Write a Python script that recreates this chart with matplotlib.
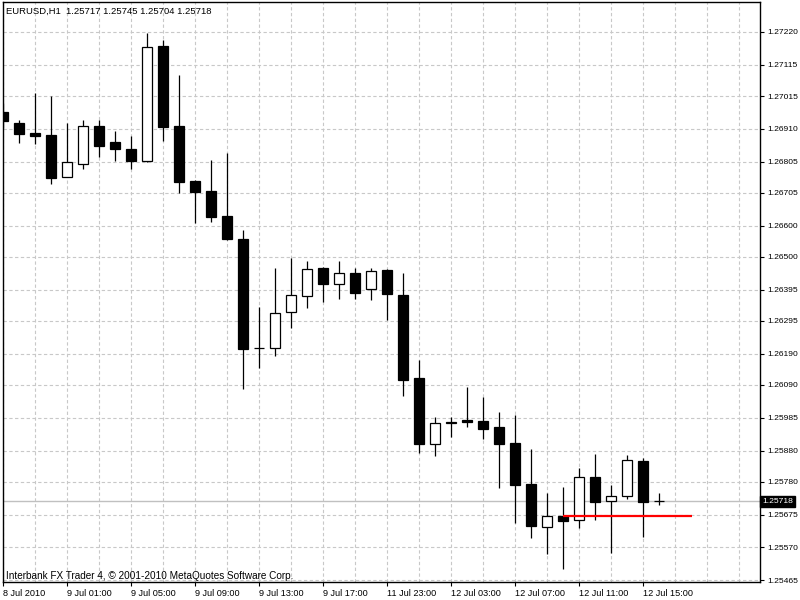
"""EURUSD H1 candlestick chart in the MetaTrader 4 look.
"""

# Global imports
import matplotlib
matplotlib.use("Agg")
import matplotlib.pyplot as plt
from matplotlib.transforms import blended_transform_factory

# Chart data (one candle per hour)
opens = [1.26964, 1.26929, 1.26897, 1.26890, 1.26756, 1.26797, 1.26919, 1.26868,
         1.26845, 1.26807, 1.27175, 1.26919, 1.26743, 1.26711, 1.26631, 1.26557,
         1.26208, 1.26208, 1.26323, 1.26375, 1.26464, 1.26413, 1.26448, 1.26397,
         1.26458, 1.26378, 1.26112, 1.25901, 1.25968, 1.25977, 1.25974, 1.25955,
         1.25904, 1.25772, 1.25635, 1.25670, 1.25657, 1.25795, 1.25718, 1.25734,
         1.25846, 1.25717]
highs = [1.26993, 1.26938, 1.27025, 1.27015, 1.26929, 1.26938, 1.26938, 1.26903,
         1.26887, 1.27217, 1.27194, 1.27082, 1.26746, 1.26810, 1.26832, 1.26586,
         1.26339, 1.26464, 1.26496, 1.26487, 1.26467, 1.26487, 1.26464, 1.26464,
         1.26461, 1.26448, 1.26170, 1.25987, 1.25987, 1.26083, 1.26051, 1.26003,
         1.25993, 1.25885, 1.25744, 1.25763, 1.25824, 1.25869, 1.25769, 1.25865,
         1.25856, 1.25745]
lows = [1.26913, 1.26865, 1.26861, 1.26733, 1.26756, 1.26781, 1.26820, 1.26807,
        1.26781, 1.26804, 1.26871, 1.26704, 1.26608, 1.26612, 1.26554, 1.26077,
        1.26144, 1.26182, 1.26272, 1.26336, 1.26355, 1.26365, 1.26365, 1.26362,
        1.26298, 1.26054, 1.25872, 1.25862, 1.25923, 1.25955, 1.25917, 1.25760,
        1.25648, 1.25599, 1.25548, 1.25500, 1.25632, 1.25657, 1.25551, 1.25724,
        1.25603, 1.25704]
closes = [1.26935, 1.26893, 1.26887, 1.26752, 1.26804, 1.26919, 1.26855, 1.26845,
          1.26807, 1.27172, 1.26916, 1.26740, 1.26708, 1.26628, 1.26557, 1.26205,
          1.26208, 1.26320, 1.26378, 1.26461, 1.26413, 1.26448, 1.26384, 1.26455,
          1.26381, 1.26105, 1.25901, 1.25968, 1.25971, 1.25971, 1.25949, 1.25901,
          1.25769, 1.25638, 1.25670, 1.25654, 1.25795, 1.25715, 1.25734, 1.25849,
          1.25715, 1.25718]

time_labels = ["8 Jul 2010", "9 Jul 01:00", "9 Jul 05:00", "9 Jul 09:00",
               "9 Jul 13:00", "9 Jul 17:00", "11 Jul 23:00", "12 Jul 03:00",
               "12 Jul 07:00", "12 Jul 11:00", "12 Jul 15:00"]
price_ticks = [1.27220, 1.27115, 1.27015, 1.26910, 1.26805, 1.26705, 1.26600,
               1.26500, 1.26395, 1.26295, 1.26190, 1.26090, 1.25985, 1.25880,
               1.25780, 1.25675, 1.25570, 1.25465]

title_text = "EURUSD,H1  1.25717 1.25745 1.25704 1.25718"
footer_text = "Interbank FX Trader 4, \u00a9 2001-2010 MetaQuotes Software Corp."

last_price = 1.25718
level_price = 1.25670
level_start, level_end = 35, 43.06

FONT = "Liberation Sans"
FS = 6.6
FS_PRICE = 6.1

fig = plt.figure(figsize=(8, 6), dpi=100)
ax = fig.add_axes([3 / 800, 18 / 600, 757 / 800, 580 / 600])

n = len(opens)
xs = list(range(n))

# Grid (dashed, light grey)
for i in range(0, 48, 2):
    ax.axvline(i, color="#c8c8c8", lw=0.8, ls=(0, (3, 2.2)), zorder=0)
for p in price_ticks:
    ax.axhline(p, color="#c8c8c8", lw=0.8, ls=(0, (3, 2.2)), zorder=0)

# Current bid line
ax.axhline(last_price, color="#c0c0c0", lw=1.0, zorder=1)

# Wicks
ax.vlines(xs, lows, highs, color="black", lw=0.9, zorder=2)

# Bodies: white for bullish, black for bearish
bottoms = [min(o, c) for o, c in zip(opens, closes)]
heights = [abs(c - o) for o, c in zip(opens, closes)]
fills = ["white" if c > o else "black" for o, c in zip(opens, closes)]
ax.bar(xs, heights, width=0.66, bottom=bottoms, color=fills,
       edgecolor="black", linewidth=0.9, zorder=3)

# Red horizontal level
ax.plot([level_start, level_end], [level_price, level_price],
        color="#ff0000", lw=1.6, zorder=4, solid_capstyle="butt")

ax.set_xlim(0, 757 / 16)
ax.set_ylim(1.25459, 1.27316)

# Axes styling
ax.yaxis.tick_right()
ax.set_yticks(price_ticks)
ax.set_yticklabels([f"{p:.5f}" for p in price_ticks], fontsize=FS_PRICE,
                   family=FONT)
ax.set_xticks(range(0, 44, 4))
ax.set_xticklabels(time_labels, fontsize=FS, family=FONT, ha="left")
ax.tick_params(axis="both", direction="out", length=3, width=0.8, pad=2,
               colors="black")
for s in ax.spines.values():
    s.set_color("black")
    s.set_linewidth(1.0)

# Current price tag on the price scale
trans = blended_transform_factory(ax.transAxes, ax.transData)
ax.text(1.003, last_price, f"{last_price:.5f}", transform=trans, va="center",
        ha="left", color="white", fontsize=FS_PRICE, family=FONT,
        bbox=dict(facecolor="black", edgecolor="black", pad=1.4), zorder=5)

# Texts inside the chart window
fig.text(6 / 800, 1 - 11 / 600, title_text, fontsize=6.8, family=FONT,
         va="center", ha="left")
fig.text(6 / 800, 1 - 576 / 600, footer_text, fontsize=7.2, family=FONT,
         va="center", ha="left")

fig.savefig("out.png", dpi=100, facecolor="white")
